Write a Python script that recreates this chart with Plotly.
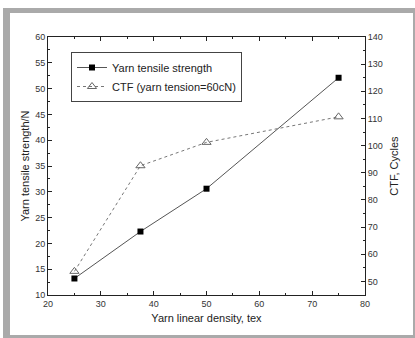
import plotly.graph_objects as go

density = [25, 37.5, 50, 75]
tensile = [13.2, 22.3, 30.6, 52.1]
ctf = [53.7, 92.6, 101.2, 110.6]

font = "Liberation Sans, Arial, sans-serif"
axcol = "#222"
txtcol = "#333"

L, R, T, B = 48, 365, 37, 295
PW, PH = R - L, B - T

def px(x):
    return (x - L) / PW

def py(y):
    return (B - y) / PH

fig = go.Figure()
fig.add_trace(go.Scatter(
    x=density, y=tensile, name="Yarn tensile strength", mode="lines+markers",
    line=dict(color="#555", width=1),
    marker=dict(symbol="square", size=6, color="black"),
))
fig.add_trace(go.Scatter(
    x=density, y=ctf, name="CTF (yarn tension=60cN)", mode="lines+markers",
    yaxis="y2",
    line=dict(color="#777", width=1, dash="dot"),
    marker=dict(symbol="triangle-up-open", size=8, color="#666", line=dict(width=1)),
))

common = dict(showline=True, linecolor=axcol, linewidth=1, showgrid=False, zeroline=False,
              ticks="inside", ticklen=4, tickcolor=axcol, automargin=False,
              tickfont=dict(size=9, color=txtcol, family=font))

fig.update_layout(
    width=415, height=338,
    margin=dict(l=L, r=415 - R, t=T, b=338 - B, autoexpand=False),
    paper_bgcolor="white", plot_bgcolor="rgba(0,0,0,0)",
    font=dict(family=font, color=txtcol),
    showlegend=True,
    legend=dict(x=px(71), y=py(52), xanchor="left", yanchor="top",
                bordercolor="#444", borderwidth=1, bgcolor="white",
                font=dict(size=11, color="#222", family=font),
                tracegroupgap=0, itemwidth=30),
    xaxis=dict(range=[20, 80], dtick=10, mirror="ticks",
               minor=dict(dtick=5, ticks="inside", ticklen=2, tickcolor=axcol),
               title=dict(text="Yarn linear density, tex", font=dict(size=11, color="#222"), standoff=6),
               **common),
    yaxis=dict(range=[10, 60], dtick=5,
               minor=dict(dtick=2.5, ticks="inside", ticklen=2, tickcolor=axcol),
               title=dict(text="Yarn tensile strength/N", font=dict(size=11, color="#222"), standoff=3),
               **common),
    yaxis2=dict(range=[45, 140], tick0=50, dtick=10, overlaying="y", side="right",
                minor=dict(dtick=5, ticks="inside", ticklen=2, tickcolor=axcol),
                title=dict(text="CTF, Cycles", font=dict(size=11, color="#222"), standoff=8),
                **common),
    shapes=[
        dict(type="rect", xref="paper", yref="paper",
             x0=px(3), x1=px(415), y0=py(338), y1=py(8),
             fillcolor="#aaaaaa", line=dict(width=0), layer="below"),
        dict(type="rect", xref="paper", yref="paper",
             x0=px(10), x1=px(413), y0=py(335), y1=py(13),
             fillcolor="white", line=dict(width=0), layer="below"),
    ],
)

fig.write_html("out.html", config={"displayModeBar": False},
               post_script="document.body.style.margin='0';")
